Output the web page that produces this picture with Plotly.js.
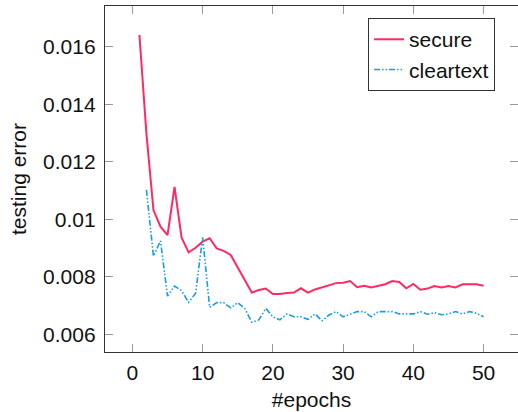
<!DOCTYPE html>
<html>
<head>
<meta charset="utf-8">
<script src="https://cdn.plot.ly/plotly-3.0.1.min.js"></script>
<style>html,body{margin:0;padding:0;background:#fff;}#chart{width:518px;height:412px;}</style>
</head>
<body>
<div id="chart"></div>
<script>
const secureEpochs = [1,2,3,4,5,6,7,8,9,10,11,12,13,14,15,16,17,18,19,20,21,22,23,24,25,26,27,28,29,30,31,32,33,34,35,36,37,38,39,40,41,42,43,44,45,46,47,48,49,50];
const secureError = [0.01641,0.01297,0.01032,0.00974,0.00945,0.01113,0.00937,0.00885,0.00901,0.00922,0.00934,0.00899,0.00890,0.00876,0.00832,0.00789,0.00745,0.00754,0.00759,0.00740,0.00740,0.00744,0.00745,0.00760,0.00745,0.00756,0.00763,0.00772,0.00778,0.00779,0.00785,0.00764,0.00769,0.00763,0.00769,0.00774,0.00785,0.00782,0.00760,0.00775,0.00755,0.00759,0.00768,0.00763,0.00768,0.00763,0.00774,0.00774,0.00774,0.00769];
const clearEpochs = [2,3,4,5,6,7,8,9,10,11,12,13,14,15,16,17,18,19,20,21,22,23,24,25,26,27,28,29,30,31,32,33,34,35,36,37,38,39,40,41,42,43,44,45,46,47,48,49,50];
const clearError = [0.01102,0.00872,0.00925,0.00733,0.00768,0.00752,0.00711,0.00743,0.00937,0.00694,0.00710,0.00710,0.00692,0.00710,0.00690,0.00642,0.00650,0.00690,0.00661,0.00650,0.00671,0.00661,0.00661,0.00652,0.00671,0.00647,0.00667,0.00679,0.00661,0.00671,0.00679,0.00679,0.00661,0.00679,0.00679,0.00679,0.00671,0.00670,0.00671,0.00679,0.00670,0.00675,0.00668,0.00671,0.00679,0.00671,0.00679,0.00673,0.00661];
const seriesNames = ["secure", "cleartext"];
const xTickVals = [0,10,20,30,40,50];
const yTickVals = [0.006,0.008,0.010,0.012,0.014,0.016];
const yTickText = ["0.006","0.008","0.01","0.012","0.014","0.016"];

const FONT = "Liberation Sans, Arial, sans-serif";
const traces = [
  {x: secureEpochs, y: secureError, name: seriesNames[0], type: "scatter", mode: "lines",
   line: {color: "#ff2a62", width: 2}},
  {x: clearEpochs, y: clearError, name: seriesNames[1], type: "scatter", mode: "lines",
   line: {color: "#1a9ee0", width: 1.6, dash: "6px,2px,1.5px,2px,1.5px,2px"}}
];
const axisCommon = {
  showgrid: false, zeroline: false, showline: true, linecolor: "#333", linewidth: 1.2,
  mirror: "allticks", ticks: "inside", ticklen: 8, tickcolor: "#999", tickwidth: 1.2,
  tickfont: {family: FONT, size: 21, color: "#111"}
};
const layout = {
  width: 518, height: 412,
  margin: {l: 105, r: 0, t: 6, b: 60},
  paper_bgcolor: "#fff", plot_bgcolor: "#fff",
  font: {family: FONT, size: 21, color: "#111"},
  xaxis: Object.assign({}, axisCommon, {
    range: [-3.9, 54.9], tickvals: xTickVals, ticklabelstandoff: 2,
    title: {text: "#epochs", font: {family: FONT, size: 21, color: "#111"}, standoff: 8}
  }),
  yaxis: Object.assign({}, axisCommon, {
    range: [0.005385, 0.017415], tickvals: yTickVals, ticktext: yTickText, ticklabelstandoff: 4,
    title: {text: "testing error", font: {family: FONT, size: 21, color: "#111"}, standoff: 10}
  }),
  showlegend: true,
  legend: {
    x: 0.637, y: 0.965, xanchor: "left", yanchor: "top",
    bgcolor: "#fff", bordercolor: "#333", borderwidth: 1,
    font: {family: FONT, size: 21, color: "#111"},
    tracegroupgap: 0, itemwidth: 30
  }
};
Plotly.newPlot("chart", traces, layout, {staticPlot: true, displayModeBar: false});
</script>
</body>
</html>
